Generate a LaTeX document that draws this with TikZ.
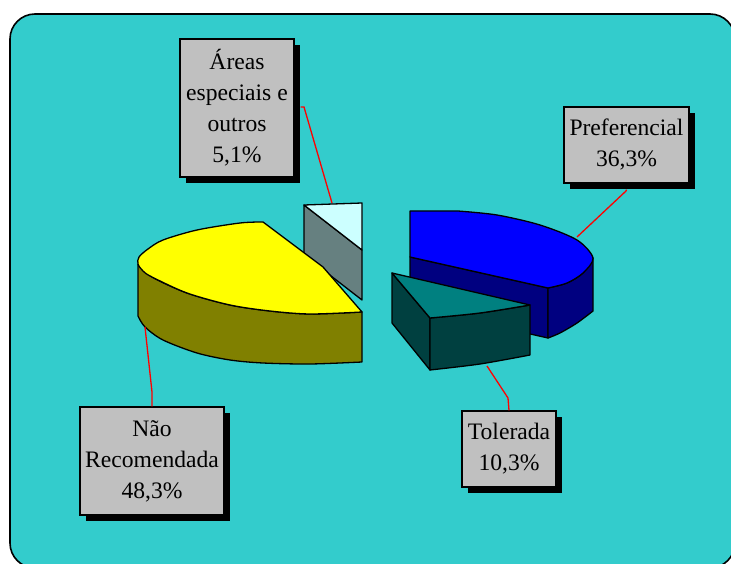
\documentclass[tikz,border=0pt]{standalone}
\usepackage{fontspec}
\setmainfont{Liberation Serif}
\usetikzlibrary{shadows}

% chart palette
\definecolor{bgcyan}{HTML}{33CCCC}
\definecolor{yeltop}{HTML}{FFFF00}
\definecolor{yelside}{HTML}{808000}
\definecolor{bluetop}{HTML}{0000FF}
\definecolor{blueside}{HTML}{000080}
\definecolor{tealtop}{HTML}{008080}
\definecolor{tealside}{HTML}{004040}
\definecolor{paletop}{HTML}{CCFFFF}
\definecolor{paleside}{HTML}{668080}
\definecolor{boxgray}{HTML}{C0C0C0}

\tikzset{
  face/.style={draw=black, line width=1.3pt, line join=round},
  labelbox/.style={draw=black, line width=1.3pt, fill=boxgray, inner sep=0pt,
    align=center, font=\fontsize{23.6}{31}\selectfont,
    drop shadow={shadow xshift=6pt, shadow yshift=-6pt, opacity=1, fill=black}},
  leader/.style={draw=red, line width=1.3pt},
}

\begin{document}
\begin{tikzpicture}[x=1pt, y=-1pt]
\useasboundingbox (0,0) rectangle (731,564);

% chart area
\begin{scope}
  \clip (0,0) rectangle (731,564);
  \draw[fill=bgcyan, line width=1.6pt, rounded corners=25pt] (10,14) rectangle (735,568);
\end{scope}

% leader line end points on the slices
\coordinate (aBend) at (304,107);
\coordinate (aEnd) at (332,203);
\coordinate (pBend) at (626,191);
\coordinate (pEnd) at (577,237);
\coordinate (tBend) at (508,398);
\coordinate (tEnd) at (487,366);
\coordinate (nBend) at (152,392);
\coordinate (nEnd) at (145,327);

% --- slice: Areas especiais e outros ---
\draw[face, fill=paleside] (304,205) -- (362,250) -- (362,300) -- (304,255) -- cycle;
\draw[face, fill=paletop] (304,205) -- (333,204) -- (362,203) -- (362,250) -- cycle;

% --- slice: Nao Recomendada ---
\draw[face, fill=yelside]
  plot[smooth, tension=0.5] coordinates {(138,264) (152,277) (187,293) (230,305) (270,311) (310,314) (362,312)}
  -- (362,362)
  -- plot[smooth, tension=0.5] coordinates {(362,362) (310,364) (263,363) (230,360) (197,353) (163,340) (145,327) (138,316)}
  -- cycle;
\draw[face, fill=yeltop] (362,312) -- (323,267)
  -- plot[smooth, tension=0.5] coordinates {(263,222) (240,223) (197,230) (163,240) (148,249) (139,257) (138,264) (143,271) (152,277) (187,293) (230,305) (270,311) (310,314) (362,312)}
  -- cycle;

% --- slice: Preferencial ---
\draw[face, fill=blueside] (410,257) -- (548,288) -- (548,338) -- (410,307) -- cycle;
\draw[face, fill=blueside]
  plot[smooth, tension=0.5] coordinates {(548,288) (567,283) (583,273) (593,258)}
  -- (593,311)
  -- plot[smooth, tension=0.5] coordinates {(593,311) (577,323) (560,333) (548,338)}
  -- cycle;
\draw[face, fill=bluetop] (410,211) -- (458,211)
  -- plot[smooth, tension=0.5] coordinates {(458,211) (497,215) (540,225) (577,240) (593,258) (583,273) (567,283) (548,288)}
  -- (410,257) -- cycle;

% --- slice: Tolerada ---
\draw[face, fill=tealside] (392,273) -- (430,318) -- (430,370) -- (392,323) -- cycle;
\draw[face, fill=tealside]
  plot[smooth, tension=0.5] coordinates {(430,318) (480,313) (530,305)}
  -- (530,355)
  -- plot[smooth, tension=0.5] coordinates {(530,355) (480,364) (430,370)}
  -- cycle;
\draw[face, fill=tealtop] (392,273) -- (530,305)
  -- plot[smooth, tension=0.5] coordinates {(530,305) (480,313) (430,318)}
  -- cycle;

% label boxes
\node[labelbox, minimum width=114pt, minimum height=138pt] (areas) at (237,108)
  {Áreas\\especiais e\\outros\\5,1\%};
\node[labelbox, minimum width=125pt, minimum height=76pt] (pref) at (626.5,145)
  {Preferencial\\36,3\%};
\node[labelbox, minimum width=94pt, minimum height=76pt] (tol) at (509,449)
  {Tolerada\\10,3\%};
\node[labelbox, minimum width=144pt, minimum height=108pt] (nao) at (152,461)
  {Não\\Recomendada\\48,3\%};

% leader lines from the boxes to their slices
\draw[leader] (areas.east |- aBend) ++(6,0) -- (aBend) -- (aEnd);
\draw[leader] (pref.south) ++(0,6) -- (pBend) -- (pEnd);
\draw[leader] (tol.north) -- (tBend) -- (tEnd);
\draw[leader] (nao.north) -- (nBend) -- (nEnd);
\end{tikzpicture}
\end{document}
